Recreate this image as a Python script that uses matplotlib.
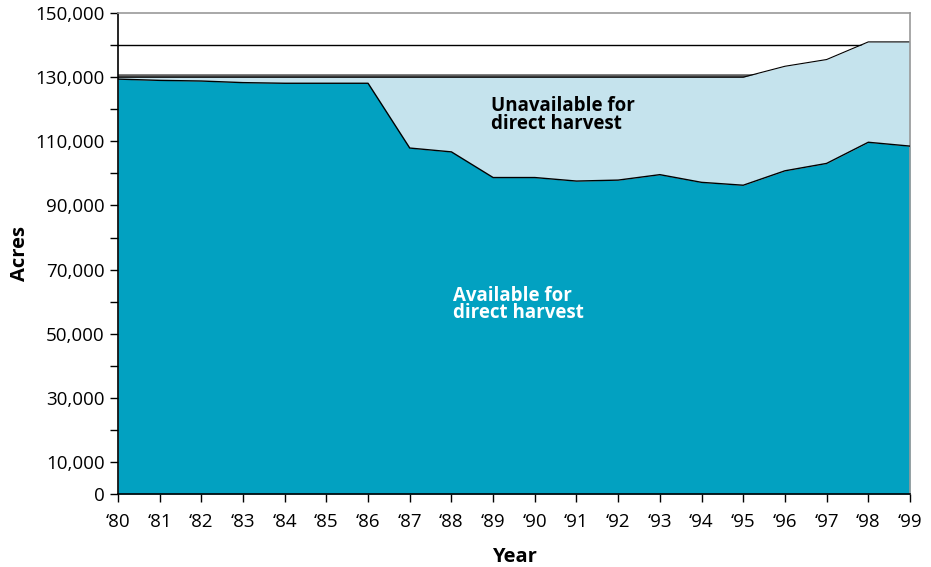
import numpy as np
import matplotlib
matplotlib.use("Agg")
import matplotlib.pyplot as plt
from matplotlib.ticker import FuncFormatter, FixedLocator

# acreage by year, 1980-1999
years = np.arange(1980, 2000)
year_labels = ["\u2018%02d" % (y % 100) for y in years]
available = [129400, 129000, 128800, 128300, 128100, 128100, 128100,
             107900, 106700, 98700, 98700, 97600, 97900, 99600,
             97200, 96300, 100800, 103100, 109700, 108500]
total = [130000] * 16 + [133400, 135500, 141000, 141000]

teal = "#02a1c1"
light = "#c5e3ed"

plt.rcParams["font.family"] = ["Open Sans", "DejaVu Sans"]

fig = plt.figure(figsize=(9.31, 5.67), dpi=100)
ax = fig.add_axes([0.1267, 0.1287, 0.8507, 0.8483])

# reference lines sit behind the areas
ax.axhline(140000, color="black", lw=1.0, zorder=0.5)
ax.axhline(130000, color="#5e5e5e", lw=4.0, zorder=0.5)

ax.fill_between(years, available, total, color=light, lw=0, zorder=1)
ax.fill_between(years, 0, available, color=teal, lw=0, zorder=2)
ax.plot(years, available, color="black", lw=1.0, zorder=3)
ax.plot(years, total, color="black", lw=0.8, zorder=1.5)

ax.set_xlim(1980, 1999)
ax.set_ylim(0, 150000)

ax.set_xticks(years)
ax.set_xticklabels(year_labels)
ax.set_yticks([0, 10000, 30000, 50000, 70000, 90000, 110000, 130000, 150000])
ax.yaxis.set_major_formatter(FuncFormatter(lambda v, p: f"{int(v):,}"))
ax.yaxis.set_minor_locator(FixedLocator(np.arange(20000, 150000, 20000)))

ax.tick_params(axis="both", which="major", labelsize=13.5, length=6, width=1, color="black")
ax.tick_params(axis="y", which="minor", length=6, width=1)
ax.tick_params(axis="x", pad=8)

for side in ("top", "right"):
    ax.spines[side].set_color("#999999")
    ax.spines[side].set_linewidth(1.2)
for side in ("left", "bottom"):
    ax.spines[side].set_color("black")
    ax.spines[side].set_linewidth(1.2)
ax.spines["top"].set_zorder(4)

ax.set_ylabel("Acres", fontsize=14.5, fontweight="bold", labelpad=4)
ax.set_xlabel("Year", fontsize=14.5, fontweight="bold", labelpad=11)

ax.text(1988.95, 124000, "Unavailable for\ndirect harvest", fontsize=13.5,
        fontweight="bold", color="black", va="top", ha="left", linespacing=0.85, zorder=5)
ax.text(1988.03, 65000, "Available for\ndirect harvest", fontsize=13.5,
        fontweight="bold", color="white", va="top", ha="left", linespacing=0.85, zorder=5)

fig.savefig("out.png", dpi=100)
